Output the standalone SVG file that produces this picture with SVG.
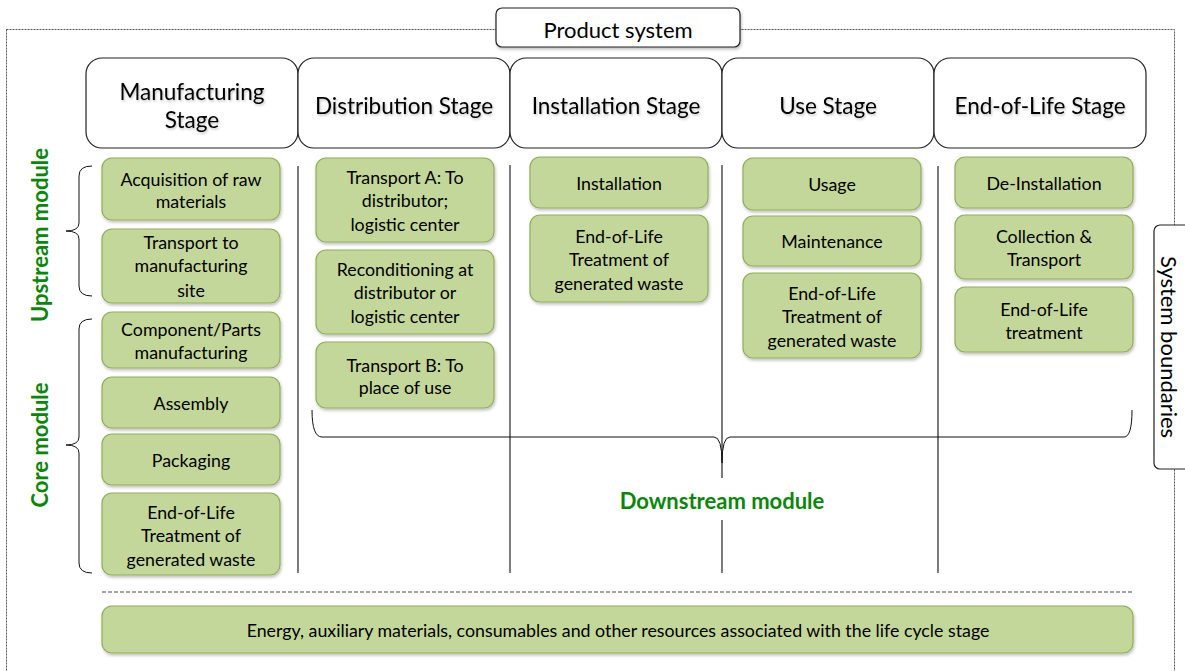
<svg xmlns="http://www.w3.org/2000/svg" width="1185" height="671" viewBox="0 0 1185 671">
<defs>
<filter id="sh" x="-10%" y="-10%" width="120%" height="130%">
<feDropShadow dx="1" dy="2" stdDeviation="1.5" flood-color="#000" flood-opacity="0.25"/>
</filter>
<filter id="tsh" x="-10%" y="-20%" width="120%" height="150%">
<feDropShadow dx="1" dy="1.5" stdDeviation="1" flood-color="#000" flood-opacity="0.25"/>
</filter>
</defs>
<style>
text{font-family:Lato,"Open Sans","Liberation Sans",sans-serif;fill:#000;text-anchor:middle}
.g{fill:#c4d79b;stroke:#8fae5b;stroke-width:1.2;filter:url(#sh)}
.gt{font-size:17.8px}
.h{fill:#fff;stroke:#222;stroke-width:1.2}
.ht{font-size:22.5px;filter:url(#tsh)}
.sep{stroke:#444;stroke-width:1.4;fill:none}
.br{stroke:#111;stroke-width:1;fill:none}
.mod{fill:#0a860a;font-weight:bold;font-size:22px}
</style>
<rect width="1185" height="671" fill="#fff"/>
<rect x="6.5" y="29.5" width="1168" height="660" fill="none" stroke="#555" stroke-width="1" stroke-dasharray="2,1"/>
<g id="product-system">
<rect x="496" y="8" width="244" height="39" rx="6" class="h" filter="url(#sh)"/>
<text x="618" y="37.5" style="font-size:22px">Product system</text>
</g>
<g id="system-boundaries">
<rect x="1154" y="225" width="40" height="244" rx="6" class="h"/>
<text transform="translate(1161,347) rotate(90)" style="font-size:22px">System boundaries</text>
</g>
<g id="hdr-manufacturing"><rect x="86" y="58" width="212" height="90" rx="16" class="h"/><text class="ht" x="192" y="100">Manufacturing</text><text class="ht" x="192" y="128">Stage</text></g>
<g id="hdr-distribution"><rect x="298" y="58" width="212" height="90" rx="16" class="h"/><text class="ht" x="404" y="114">Distribution Stage</text></g>
<g id="hdr-installation"><rect x="510" y="58" width="212" height="90" rx="16" class="h"/><text class="ht" x="616" y="114">Installation Stage</text></g>
<g id="hdr-use"><rect x="722" y="58" width="212" height="90" rx="16" class="h"/><text class="ht" x="828" y="114">Use Stage</text></g>
<g id="hdr-eol"><rect x="934" y="58" width="212" height="90" rx="16" class="h"/><text class="ht" x="1040" y="114">End-of-Life Stage</text></g>
<g id="connectors">
<line class="sep" x1="298" y1="166" x2="298" y2="573"/>
<line class="sep" x1="510" y1="165" x2="510" y2="573"/>
<line class="sep" x1="722" y1="165" x2="722" y2="478"/>
<line class="sep" x1="722" y1="520" x2="722" y2="573"/>
<line class="sep" x1="938" y1="166" x2="938" y2="573"/>
<path class="br" d="M92,166 Q79,166 79,176 L79,223 Q79,231 66,231 Q79,231 79,239 L79,286 Q79,296 92,296"/>
<path class="br" d="M92,319 Q79,319 79,329 L79,437 Q79,445 66,445 Q79,445 79,453 L79,563 Q79,573 92,573"/>
<path class="br" d="M312,410 Q312,437 322,437 L714,437 Q722,437 722,463 Q722,437 730,437 L1124,437 Q1132,437 1132,410"/>
<line x1="102" y1="592" x2="1133" y2="592" stroke="#444" stroke-width="1" stroke-dasharray="4,2"/>
</g>
<text class="mod" transform="translate(48,235) rotate(-90)">Upstream module</text>
<text class="mod" transform="translate(48,445) rotate(-90)">Core module</text>
<text class="mod" x="722" y="509">Downstream module</text>
<g id="m1"><rect class="g" x="102" y="158" width="178" height="62" rx="10"/><text class="gt" x="191" y="186">Acquisition of raw</text><text class="gt" x="191" y="208">materials</text></g>
<g id="m2"><rect class="g" x="102" y="229" width="178" height="74" rx="10"/><text class="gt" x="191" y="249">Transport to</text><text class="gt" x="191" y="272">manufacturing</text><text class="gt" x="191" y="297">site</text></g>
<g id="m3"><rect class="g" x="102" y="312" width="178" height="56" rx="10"/><text class="gt" x="191" y="336">Component/Parts</text><text class="gt" x="191" y="359">manufacturing</text></g>
<g id="m4"><rect class="g" x="102" y="377" width="178" height="51" rx="10"/><text class="gt" x="191" y="410">Assembly</text></g>
<g id="m5"><rect class="g" x="102" y="434" width="178" height="51" rx="10"/><text class="gt" x="191" y="467">Packaging</text></g>
<g id="m6"><rect class="g" x="102" y="493" width="178" height="82" rx="10"/><text class="gt" x="191" y="519">End-of-Life</text><text class="gt" x="191" y="542">Treatment of</text><text class="gt" x="191" y="566">generated waste</text></g>
<g id="d1"><rect class="g" x="316" y="158" width="178" height="84" rx="10"/><text class="gt" x="405" y="184">Transport A: To</text><text class="gt" x="405" y="207">distributor;</text><text class="gt" x="405" y="231">logistic center</text></g>
<g id="d2"><rect class="g" x="316" y="250" width="178" height="84" rx="10"/><text class="gt" x="405" y="276">Reconditioning at</text><text class="gt" x="405" y="299">distributor or</text><text class="gt" x="405" y="323">logistic center</text></g>
<g id="d3"><rect class="g" x="316" y="342" width="178" height="66" rx="10"/><text class="gt" x="405" y="372">Transport B: To</text><text class="gt" x="405" y="394">place of use</text></g>
<g id="i1"><rect class="g" x="530" y="157" width="178" height="51" rx="10"/><text class="gt" x="619" y="190">Installation</text></g>
<g id="i2"><rect class="g" x="530" y="215" width="178" height="87" rx="10"/><text class="gt" x="619" y="243">End-of-Life</text><text class="gt" x="619" y="266">Treatment of</text><text class="gt" x="619" y="290">generated waste</text></g>
<g id="u1"><rect class="g" x="743" y="158" width="178" height="52" rx="10"/><text class="gt" x="832" y="191">Usage</text></g>
<g id="u2"><rect class="g" x="743" y="216" width="178" height="50" rx="10"/><text class="gt" x="832" y="248">Maintenance</text></g>
<g id="u3"><rect class="g" x="743" y="273" width="178" height="85" rx="10"/><text class="gt" x="832" y="300">End-of-Life</text><text class="gt" x="832" y="323">Treatment of</text><text class="gt" x="832" y="347">generated waste</text></g>
<g id="e1"><rect class="g" x="955" y="157" width="178" height="51" rx="10"/><text class="gt" x="1044" y="190">De-Installation</text></g>
<g id="e2"><rect class="g" x="955" y="215" width="178" height="64" rx="10"/><text class="gt" x="1044" y="243">Collection &amp;</text><text class="gt" x="1044" y="266">Transport</text></g>
<g id="e3"><rect class="g" x="955" y="287" width="178" height="65" rx="10"/><text class="gt" x="1044" y="316">End-of-Life</text><text class="gt" x="1044" y="339">treatment</text></g>
<g id="energy"><rect class="g" x="102" y="606" width="1031" height="47" rx="10"/><text class="gt" x="618" y="637">Energy, auxiliary materials, consumables and other resources associated with the life cycle stage</text></g>
</svg>
